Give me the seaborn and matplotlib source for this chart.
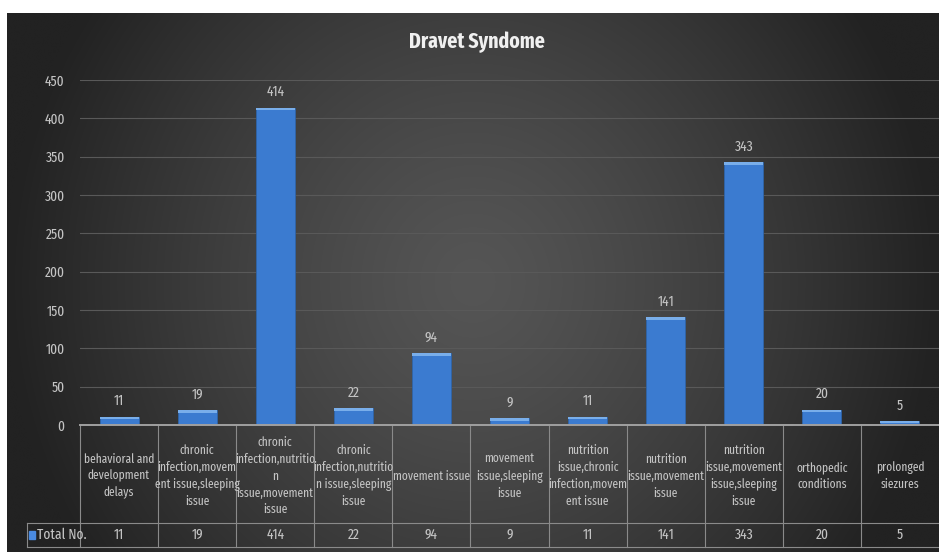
import numpy as np
import pandas as pd
import matplotlib
matplotlib.use("Agg")
import matplotlib.pyplot as plt
import matplotlib.transforms as mtransforms
from matplotlib.lines import Line2D
from matplotlib.patches import Rectangle
import seaborn as sns

# ---- data ----
categories = [
    "behavioral and development delays",
    "chronic infection,movement issue,sleeping issue",
    "chronic infection,nutrition issue,movement issue",
    "chronic infection,nutrition issue,sleeping issue",
    "movement issue",
    "movement issue,sleeping issue",
    "nutrition issue,chronic infection,movement issue",
    "nutrition issue,movement issue",
    "nutrition issue,movement issue,sleeping issue",
    "orthopedic conditions",
    "prolonged siezures",
]
table_labels = [
    "behavioral and\ndevelopment\ndelays",
    "chronic\ninfection,movem\nent issue,sleeping\nissue",
    "chronic\ninfection,nutritio\nn\nissue,movement\nissue",
    "chronic\ninfection,nutritio\nn issue,sleeping\nissue",
    "movement issue",
    "movement\nissue,sleeping\nissue",
    "nutrition\nissue,chronic\ninfection,movem\nent issue",
    "nutrition\nissue,movement\nissue",
    "nutrition\nissue,movement\nissue,sleeping\nissue",
    "orthopedic\nconditions",
    "prolonged\nsiezures",
]
totals = [11, 19, 414, 22, 94, 9, 11, 141, 343, 20, 5]
series_name = "Total No."
title = "Dravet Syndome"
yticks = [0, 50, 100, 150, 200, 250, 300, 350, 400, 450]

df = pd.DataFrame({"category": categories, "total": totals})

W, H = 939, 552
fig = plt.figure(figsize=(W / 100, H / 100), dpi=100)
fig.patch.set_facecolor("white")

NARROW = ["Fira Sans Extra Condensed", "DejaVu Sans"]
TITLEF = ["Fira Sans Extra Condensed", "DejaVu Sans"]
TXT = "#c4c4c4"

# background panel with radial-ish gradient
bg = fig.add_axes([7 / W, 0, 1 - 7 / W, 1 - 13 / H])
bg.set_axis_off()
gx = np.linspace(-1, 1, 400)
gy = np.linspace(-1, 1, 240)
X, Y = np.meshgrid(gx, gy)
R = np.sqrt((X * 1.0) ** 2 + (Y * 0.55) ** 2)
R = np.clip(R, 0, 1)
lo, hi = 0x22 / 255, 0x55 / 255
val = hi - (hi - lo) * R ** 1.3
img = np.dstack([val, val, val])
bg.imshow(img, aspect="auto", extent=[0, 1, 0, 1], interpolation="bicubic")
bg.set_xlim(0, 1)
bg.set_ylim(0, 1)

def fy(py):
    return 1 - py / H

ax_left, ax_right = 80 / W, 939 / W
ax_top, ax_bot = fy(80), fy(425)
ax = fig.add_axes([ax_left, ax_bot, ax_right - ax_left, ax_top - ax_bot])
ax.patch.set_alpha(0)

sns.barplot(data=df, x="category", y="total", ax=ax, color="#3b7bd0",
            width=0.5, saturation=1, edgecolor="#2f64a8", linewidth=0.6,
            zorder=3)
ax.set_xlim(-0.5, len(categories) - 0.5)
ax.set_ylim(0, 450)
ax.set_yticks(yticks)
ax.set_yticklabels([str(t) for t in yticks], color=TXT, fontsize=10.5,
                   family=NARROW)
ax.tick_params(axis="y", length=0, pad=11)
ax.set_xticks([])
ax.set_xlabel("")
ax.set_ylabel("")
for s in ax.spines.values():
    s.set_visible(False)
for t in yticks[1:]:
    ax.axhline(t, color="#595959", lw=0.8, zorder=1)

# bevel highlight on top of bars + data labels
for p, v in zip(ax.patches, totals):
    x0, w = p.get_x(), p.get_width()
    ax.add_patch(Rectangle((x0, v), w, -min(3.5, v * 0.6), color="#79aeea",
                           zorder=4, lw=0))
    ax.annotate(str(v), (x0 + w / 2, v), xytext=(0, 6), textcoords="offset points",
                ha="center", va="bottom", color=TXT, fontsize=10.5, family=NARROW)

fig.text(477 / W, fy(42), title, ha="center", va="center", color="#f0f0f0",
         fontsize=15.5, fontweight="bold", family=TITLEF)

# ---- data table ----
tr = mtransforms.blended_transform_factory(ax.transData, fig.transFigure)
LC = "#8a8a8a"
n = len(categories)
y_top, y_mid, y_bot = fy(425), fy(523), fy(547)
fig.add_artist(Line2D([ax_left, ax_right], [y_top, y_top], color="#a0a0a0", lw=1.4))
fig.add_artist(Line2D([27 / W, ax_right], [y_mid, y_mid], color=LC, lw=0.8))
fig.add_artist(Line2D([27 / W, ax_right], [y_bot, y_bot], color=LC, lw=0.8))
fig.add_artist(Line2D([27 / W, 27 / W], [y_mid, y_bot], color=LC, lw=0.8))
for i in range(n):
    ax.add_artist(Line2D([i - 0.5, i - 0.5], [y_top, y_bot], color=LC, lw=0.8,
                         transform=tr, clip_on=False))
for i, (lab, v) in enumerate(zip(table_labels, totals)):
    ax.text(i, fy(476), lab, transform=tr, ha="center", va="center",
            color=TXT, fontsize=9, family=NARROW, linespacing=1.45,
            clip_on=False)
    ax.text(i, fy(535), str(v), transform=tr, ha="center", va="center",
            color=TXT, fontsize=10.5, family=NARROW, clip_on=False)
fig.add_artist(Rectangle((29 / W, fy(539)), 6 / W, 8 / H, color="#4a8ae0",
                         transform=fig.transFigure))
fig.text(37 / W, fy(535), series_name, ha="left", va="center", color=TXT,
         fontsize=10.5, family=NARROW)

fig.savefig("out.png", dpi=100, facecolor=fig.get_facecolor())
